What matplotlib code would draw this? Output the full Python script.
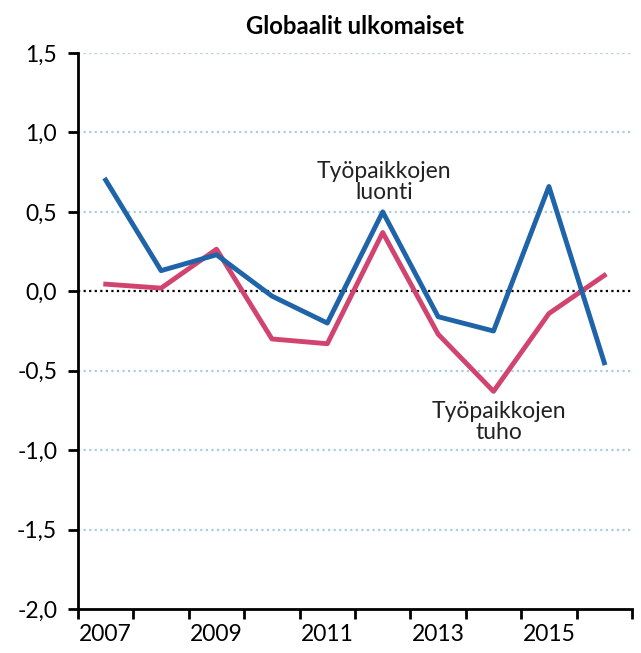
import numpy as np
import matplotlib.pyplot as plt

plt.rcParams['font.family'] = ['Lato', 'DejaVu Sans']

years = [2007, 2008, 2009, 2010, 2011, 2012, 2013, 2014, 2015, 2016]
luonti = [0.70, 0.13, 0.23, -0.03, -0.20, 0.50, -0.16, -0.25, 0.66, -0.45]
tuho = [0.045, 0.02, 0.265, -0.30, -0.33, 0.37, -0.27, -0.63, -0.14, 0.10]
yticks = [-2.0, -1.5, -1.0, -0.5, 0.0, 0.5, 1.0, 1.5]

blue = '#1f64a8'
pink = '#d1446f'

fig = plt.figure(figsize=(6.41, 6.53), dpi=100)
ax = fig.add_axes([0.1217, 0.0674, 0.8643, 0.8514])

x = np.arange(len(years))
for yv in yticks[1:]:
    if yv == 0:
        ax.axhline(yv, color='black', lw=1.6, ls=(0, (1, 1.5)), zorder=1)
    else:
        ax.axhline(yv, color='#a9cfdf', lw=1.6, ls=(0, (1, 1.5)), zorder=1)

ax.plot(x, luonti, color=blue, lw=3.5, zorder=3)
ax.plot(x, tuho, color=pink, lw=3.5, zorder=2)

ax.set_xlim(-0.5, len(years) - 0.5)
ax.set_ylim(-2.0, 1.5)
ax.set_yticks(yticks)
ax.set_yticklabels([f"{v:.1f}".replace('.', ',') for v in yticks], fontsize=16.5)
ax.set_xticks(np.arange(-0.5, len(years)), minor=False)
ax.set_xticklabels([])
ax.set_xticks(x[::2], minor=True)
ax.set_xticklabels([str(y) for y in years[::2]], minor=True, fontsize=16.5)
ax.tick_params(axis='x', which='major', length=7, width=2, direction='out')
ax.tick_params(axis='x', which='minor', length=0, pad=11)
ax.tick_params(axis='y', length=7, width=2, direction='out', pad=8)

for s in ['top', 'right']:
    ax.spines[s].set_visible(False)
for s in ['left', 'bottom']:
    ax.spines[s].set_linewidth(2)

ax.set_title('Globaalit ulkomaiset', fontsize=17.2, fontweight='bold', pad=14)
ax.text(5.03, 0.555, 'Työpaikkojen\nluonti', ha='center', va='bottom', fontsize=16.5,
        linespacing=1.02, color='#222222')
ax.text(7.1, -0.69, 'Työpaikkojen\ntuho', ha='center', va='top', fontsize=16.5,
        linespacing=1.02, color='#222222')

fig.savefig('out.png', dpi=100)
